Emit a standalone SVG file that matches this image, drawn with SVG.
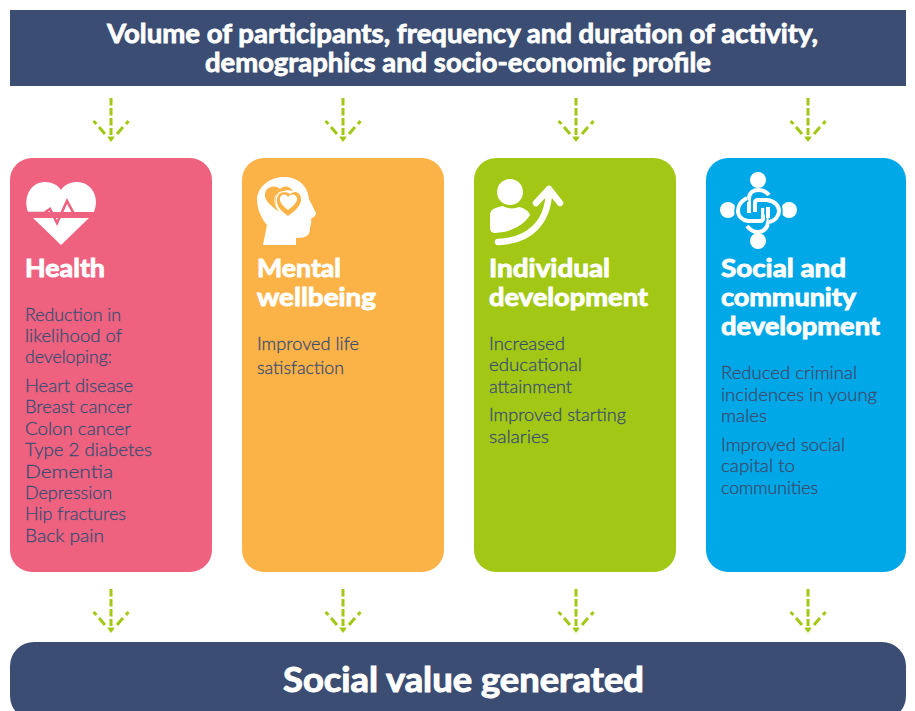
<svg xmlns="http://www.w3.org/2000/svg" xmlns:xlink="http://www.w3.org/1999/xlink" width="915" height="711" viewBox="0 0 915 711">
<style>
text{font-family:"Lato","Liberation Sans",sans-serif}
.h{font-size:25px;font-weight:700;fill:#fff;stroke:#fff;stroke-width:.9px}
.b{font-size:18px;font-weight:300;fill:#3b4d72;stroke:#3b4d72;stroke-width:.3px}
.t{font-size:26px;font-weight:700;fill:#fff;stroke:#fff;stroke-width:.8px}
.c{stroke:#a2c815;stroke-width:3;fill:none}
.navy{fill:#3b4d72}
.kb{fill:none;stroke:#00a8e8;stroke-width:7.500}
.kw{fill:none;stroke:#fff;stroke-width:4}
</style>
<defs>
<g id="arr">
<path class="c" d="M0,0V37" stroke-dasharray="7.500 2.500"/>
<path class="c" stroke-width="2.600" d="M-17.500,23L-14.500,26M-12,29L-6,36M17.500,23L15,26M12,29L6,36"/>
<path d="M-3.500,38.500H3.500L3,40L0,44L-3,40Z" fill="#a2c815"/>
</g>
</defs>
<rect width="915" height="711" fill="#fff"/>
<g id="top-bar">
<rect class="navy" x="10" y="10" width="896" height="76"/>
<text class="t" x="107" y="43" textLength="711" lengthAdjust="spacingAndGlyphs">Volume of participants, frequency and duration of activity,</text>
<text class="t" x="205" y="72" textLength="506" lengthAdjust="spacingAndGlyphs">demographics and socio-economic profile</text>
</g>
<g id="connectors">
<use xlink:href="#arr" href="#arr" x="111" y="98"/>
<use xlink:href="#arr" href="#arr" x="343" y="98"/>
<use xlink:href="#arr" href="#arr" x="576" y="98"/>
<use xlink:href="#arr" href="#arr" x="808" y="98"/>
<use xlink:href="#arr" href="#arr" x="111" y="589"/>
<use xlink:href="#arr" href="#arr" x="343" y="589"/>
<use xlink:href="#arr" href="#arr" x="576" y="589"/>
<use xlink:href="#arr" href="#arr" x="808" y="589"/>
</g>
<g id="health">
<rect x="10" y="158" width="202" height="414" rx="22" fill="#ee6280"/>
<path fill="#fff" d="M28,212C23,198 30,182 45,182C52,182 58,185 61,190C64,185 70,182 77,182C92,182 100,198 94,212ZM33,218H89L61,245Z"/>
<path fill="none" stroke="#ee6280" stroke-width="2.600" d="M26,213H44L50,209L57,223L67,201L74,214H96"/>
<text class="h" x="25" y="277" textLength="80" lengthAdjust="spacingAndGlyphs">Health</text>
<text class="b" x="25" y="321" textLength="96" lengthAdjust="spacingAndGlyphs">Reduction in</text>
<text class="b" x="25" y="342" textLength="97" lengthAdjust="spacingAndGlyphs">likelihood of</text>
<text class="b" x="25" y="363" textLength="87" lengthAdjust="spacingAndGlyphs">developing:</text>
<text class="b" x="25" y="392" textLength="108" lengthAdjust="spacingAndGlyphs">Heart disease</text>
<text class="b" x="25" y="413" textLength="107" lengthAdjust="spacingAndGlyphs">Breast cancer</text>
<text class="b" x="25" y="435" textLength="106" lengthAdjust="spacingAndGlyphs">Colon cancer</text>
<text class="b" x="25" y="456" textLength="127" lengthAdjust="spacingAndGlyphs">Type 2 diabetes</text>
<text class="b" x="25" y="478" textLength="88" lengthAdjust="spacingAndGlyphs">Dementia</text>
<text class="b" x="25" y="499" textLength="87" lengthAdjust="spacingAndGlyphs">Depression</text>
<text class="b" x="25" y="520" textLength="101" lengthAdjust="spacingAndGlyphs">Hip fractures</text>
<text class="b" x="25" y="542" textLength="79" lengthAdjust="spacingAndGlyphs">Back pain</text>
</g>
<g id="mental-wellbeing">
<rect x="242" y="158" width="202" height="414" rx="22" fill="#fbb348"/>
<path fill="#fff" d="M263,245L267,225C260,217 257,207 257,199C258,186 270,177 284,177C299,177 308,187 309,199L316,213C316,216 312,218 311,219C312,223 310,226 310,229C310,235 306,238 297,238H296V245Z"/>
<path fill="#fbb348" d="M279,212C272,206 264,201 265,194C266,187 274,184 280,189C284,185 290,186 293,191C286,189 279,192 276,197C275,203 276,208 279,212Z"/>
<path fill="#fbb348" d="M288,216C281,211 276,206 277,199C278,192 285,190 290,194C295,190 300,192 301,198C302,205 295,211 288,216Z"/>
<path fill="none" stroke="#fff" stroke-width=".8" d="M281,212C276,208 274,203 275,198C276,193 281,191 285,192"/>
<path fill="#fff" d="M288,210C284,207 279,202 280,198C281,194 286,193 288,197C291,193 296,194 297,198C298,202 292,207 288,210Z"/>
<text class="h" x="257" y="277" textLength="84" lengthAdjust="spacingAndGlyphs">Mental</text>
<text class="h" x="257" y="306" textLength="119" lengthAdjust="spacingAndGlyphs">wellbeing</text>
<text class="b" x="257" y="350" textLength="102" lengthAdjust="spacingAndGlyphs">Improved life</text>
<text class="b" x="257" y="374" textLength="87" lengthAdjust="spacingAndGlyphs">satisfaction</text>
</g>
<g id="individual-development">
<rect x="474" y="158" width="202" height="414" rx="22" fill="#a2c815"/>
<circle cx="510" cy="192" r="13" fill="#fff"/>
<path fill="#fff" d="M490,222V216C490,209 494,208 503,206C508,209 514,209 519,207C524,208 529,211 530,215C525,224 510,233 495,233C491,233 490,230 490,227Z"/>
<path fill="none" stroke="#a2c815" stroke-width="4" d="M495,235C520,235 538,220 541,200"/>
<path fill="none" stroke="#fff" stroke-width="6.500" stroke-linecap="round" stroke-linejoin="round" d="M498,242C530,241 548,222 549,192M536,203L549,189L560,203"/>
<text class="h" x="489" y="277" textLength="121" lengthAdjust="spacingAndGlyphs">Individual</text>
<text class="h" x="489" y="306" textLength="159" lengthAdjust="spacingAndGlyphs">development</text>
<text class="b" x="489" y="350" textLength="76" lengthAdjust="spacingAndGlyphs">Increased</text>
<text class="b" x="489" y="371" textLength="93" lengthAdjust="spacingAndGlyphs">educational</text>
<text class="b" x="489" y="393" textLength="83" lengthAdjust="spacingAndGlyphs">attainment</text>
<text class="b" x="489" y="421" textLength="137" lengthAdjust="spacingAndGlyphs">Improved starting</text>
<text class="b" x="489" y="443" textLength="60" lengthAdjust="spacingAndGlyphs">salaries</text>
</g>
<g id="social-community-development">
<rect x="706" y="158" width="200" height="414" rx="22" fill="#00a8e8"/>
<g fill="#fff">
<circle cx="758" cy="180" r="8"/><circle cx="758" cy="241" r="8"/><circle cx="728" cy="210" r="8"/><circle cx="789" cy="210" r="8"/>
</g>
<path class="kw" d="M749,212V199C749,192 754,190 758,190C762,190 766,191 769,195"/>
<path class="kw" d="M768,208V222C768,229 762,232 758,232C753,232 750,230 747,226"/>
<path class="kb" d="M755,212V203Q755,200 758,200H767C775,201 779,206 779,211C779,216 775,221 769,222"/>
<path class="kw" d="M755,212V203Q755,200 758,200H767C775,201 779,206 779,211C779,216 775,221 769,222"/>
<path class="kb" d="M747,198C741,201 738,206 738,211C738,216 742,220 748,221H760Q763,221 763,218V208"/>
<path class="kw" d="M747,198C741,201 738,206 738,211C738,216 742,220 748,221H760Q763,221 763,218V208"/>
<path class="kb" d="M749,212V204"/><path class="kw" d="M749,213V203"/>
<path class="kb" d="M768,215V208"/><path class="kw" d="M768,218V207"/>
<text class="h" x="721" y="277" textLength="125" lengthAdjust="spacingAndGlyphs">Social and</text>
<text class="h" x="721" y="306" textLength="135" lengthAdjust="spacingAndGlyphs">community</text>
<text class="h" x="721" y="335" textLength="159" lengthAdjust="spacingAndGlyphs">development</text>
<text class="b" x="721" y="379" textLength="136" lengthAdjust="spacingAndGlyphs">Reduced criminal</text>
<text class="b" x="721" y="401" textLength="156" lengthAdjust="spacingAndGlyphs">incidences in young</text>
<text class="b" x="721" y="422" textLength="46" lengthAdjust="spacingAndGlyphs">males</text>
<text class="b" x="721" y="451" textLength="124" lengthAdjust="spacingAndGlyphs">Improved social</text>
<text class="b" x="721" y="472" textLength="74" lengthAdjust="spacingAndGlyphs">capital to</text>
<text class="b" x="721" y="494" textLength="97" lengthAdjust="spacingAndGlyphs">communities</text>
</g>
<g id="bottom-bar">
<rect class="navy" x="10" y="642" width="896" height="78" rx="24"/>
<text class="t" style="font-size:34px;stroke-width:1px" x="283" y="692" textLength="361" lengthAdjust="spacingAndGlyphs">Social value generated</text>
</g>
</svg>
